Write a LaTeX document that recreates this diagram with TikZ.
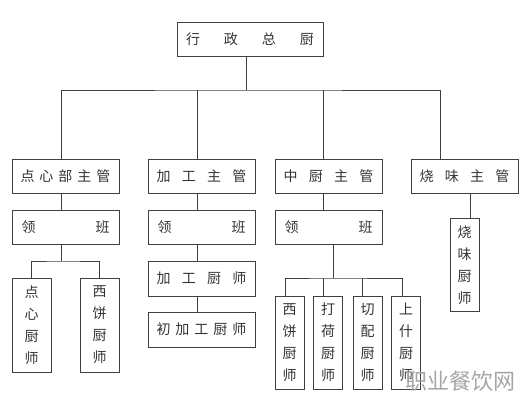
\documentclass[tikz,border=0pt]{standalone}
\usepackage{fontspec}
\newfontfamily\cjk{Noto Sans CJK SC}
\tikzset{
  box/.style={draw=black!75, line width=0.8pt, minimum width=107pt, minimum height=34pt,
    inner sep=0pt, font=\cjk\fontsize{14}{16}\selectfont, text=black!80},
  vbox/.style={draw=black!75, line width=0.8pt, minimum width=29pt, minimum height=93pt,
    inner sep=0pt, align=center, font=\cjk\fontsize{14}{22}\selectfont, text=black!80},
  link/.style={draw=black!75, line width=0.8pt},
}
\newcommand\spread[2][90pt]{\makebox[#1]{#2}}

\begin{document}
\begin{tikzpicture}[x=1pt,y=-1pt]
  \useasboundingbox (0,0) rectangle (528,400);
  % top
  \node[box, minimum width=146pt] (chef) at (250,39) {\spread[128pt]{行\hfill 政\hfill 总\hfill 厨}};
  % managers
  \node[box] (dx) at (65.5,176) {\spread{点\hfill 心\hfill 部\hfill 主\hfill 管}};
  \node[box] (jg) at (201.5,176) {\spread{加\hfill 工\hfill 主\hfill 管}};
  \node[box] (zc) at (328.5,176) {\spread{中\hfill 厨\hfill 主\hfill 管}};
  \node[box] (sw) at (464.5,176) {\spread{烧\hfill 味\hfill 主\hfill 管}};
  % leaders
  \node[box] (lbA) at (65.5,227) {\spread[88pt]{领\hfill 班}};
  \node[box] (lbB) at (201.5,227) {\spread[88pt]{领\hfill 班}};
  \node[box] (lbC) at (328.5,227) {\spread[88pt]{领\hfill 班}};
  \node[vbox] (swcs) at (464.5,265) {烧\\味\\厨\\师};
  % cooks
  \node[vbox, minimum width=39pt, minimum height=94pt] (dxcs) at (31.5,325) {点\\心\\厨\\师};
  \node[vbox, minimum width=39pt, minimum height=94pt] (xbA) at (99.5,325) {西\\饼\\厨\\师};
  \node[box, minimum height=35pt] (jgcs) at (201.5,278.5) {\spread{加\hfill 工\hfill 厨\hfill 师}};
  \node[box, minimum height=35pt] (cjg) at (201.5,329.5) {\spread{初\hfill 加\hfill 工\hfill 厨\hfill 师}};
  \node[vbox] (xbB) at (289.5,342.5) {西\\饼\\厨\\师};
  \node[vbox] (dh) at (328,342.5) {打\\荷\\厨\\师};
  \node[vbox] (qp) at (367.5,342.5) {切\\配\\厨\\师};
  \node[vbox] (ss) at (406,342.5) {上\\什\\厨\\师};
  % watermark
  \node[font=\cjk\fontsize{22}{22}\selectfont, text=black!35] (mark) at (460,381) {职业餐饮网};

  \coordinate (bus) at (246,90);
  \coordinate (busA) at (61,261);
  \coordinate (busC) at (333,278);
  \draw[link] (chef.south -| bus) -- (bus);
  \draw[link] ([xshift=-4.5pt]dx.north) |- (bus) -| ([xshift=-24.5pt]sw.north);
  \draw[link] ([xshift=-4.5pt]jg.north) -- ([xshift=-4.5pt]jg.north |- bus);
  \draw[link] ([xshift=-5.5pt]zc.north) -- ([xshift=-5.5pt]zc.north |- bus);
  \draw[link] ([xshift=-4.5pt]dx.south) -- ([xshift=-4.5pt]lbA.north);
  \draw[link] ([xshift=-4.5pt]jg.south) -- ([xshift=-4.5pt]lbB.north);
  \draw[link] ([xshift=-5.5pt]zc.south) -- ([xshift=-5.5pt]lbC.north);
  \draw[link] ([xshift=5.5pt]sw.south) -- ([xshift=5.5pt]swcs.north);
  \draw[link] (lbA.south -| busA) -- (busA);
  \draw[link] (dxcs.north) |- (busA) -| (xbA.north);
  \draw[link] ([xshift=-4.5pt]lbB.south) -- ([xshift=-4.5pt]jgcs.north);
  \draw[link] ([xshift=-4.5pt]jgcs.south) -- ([xshift=-4.5pt]cjg.north);
  \draw[link] (lbC.south -| busC) -- (busC);
  \draw[link] ([xshift=-4.5pt]xbB.north) |- (busC) -| ([xshift=-4pt]ss.north);
  \draw[link] ([xshift=-5pt]dh.north) -- ([xshift=-5pt]dh.north |- busC);
  \draw[link] ([xshift=-5.5pt]qp.north) -- ([xshift=-5.5pt]qp.north |- busC);
\end{tikzpicture}
\end{document}
